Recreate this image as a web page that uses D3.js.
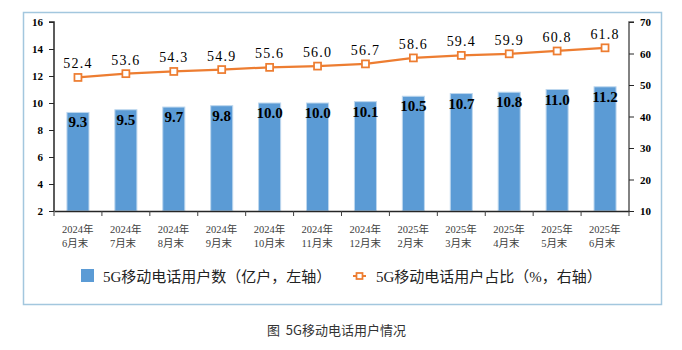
<!DOCTYPE html>
<html>
<head>
<meta charset="utf-8">
<script src="https://cdn.jsdelivr.net/npm/d3@7/dist/d3.min.js"></script>
<style>
  body { margin: 0; background: #fff; }
  svg { display: block; }
</style>
</head>
<body>
<div id="chart"></div>
<script>
// 5G mobile phone users — bars (left axis) + share line (right axis)

const years = ['2024年', '2024年', '2024年', '2024年', '2024年', '2024年', '2024年',
               '2025年', '2025年', '2025年', '2025年', '2025年'];
const months = ['6月末', '7月末', '8月末', '9月末', '10月末', '11月末', '12月末',
                '2月末', '3月末', '4月末', '5月末', '6月末'];
const users = [9.3, 9.5, 9.7, 9.8, 10.0, 10.0, 10.1, 10.5, 10.7, 10.8, 11.0, 11.2];
const share = [52.4, 53.6, 54.3, 54.9, 55.6, 56.0, 56.7, 58.6, 59.4, 59.9, 60.8, 61.8];
const leftTicks = [2, 4, 6, 8, 10, 12, 14, 16];
const rightTicks = [10, 20, 30, 40, 50, 60, 70];

const CONFIG = {
    WIDTH: 682,
    HEIGHT: 350,
    BAR_COLOR: '#5b9bd5',
    BAR_EDGE: '#bdd7ee',
    LINE_COLOR: '#ed7d31',
    BORDER_COLOR: '#a3c7de',
    SERIF: '"Liberation Serif", "Noto Sans CJK SC", serif',
    CJK: '"Noto Sans CJK SC", sans-serif',
};

const plot = { left: 54, right: 629, top: 22, bottom: 211 };

const svg = d3.select('#chart')
  .append('svg')
  .attr('width', CONFIG.WIDTH)
  .attr('height', CONFIG.HEIGHT);

// outer frame
svg.append('rect')
  .attr('x', 23.5).attr('y', 12.5)
  .attr('width', 638).attr('height', 292)
  .attr('fill', 'none')
  .attr('stroke', CONFIG.BORDER_COLOR)
  .attr('stroke-width', 1.5);

const keys = months.map((m, i) => i);

const x = d3.scaleBand()
  .domain(keys)
  .range([plot.left, plot.right])
  .paddingInner(0.54)
  .paddingOuter(0.27);

const xOuter = d3.scaleBand().domain(keys).range([plot.left, plot.right]);

const yLeft = d3.scaleLinear().domain([2, 16]).range([plot.bottom, plot.top]);
const yRight = d3.scaleLinear().domain([10, 70]).range([plot.bottom, plot.top]);

// bars
svg.append('g')
  .selectAll('rect')
  .data(users)
  .join('rect')
  .attr('x', (d, i) => x(i))
  .attr('y', d => yLeft(d))
  .attr('width', x.bandwidth())
  .attr('height', d => yLeft(2) - yLeft(d))
  .attr('fill', CONFIG.BAR_COLOR)
  .attr('stroke', CONFIG.BAR_EDGE)
  .attr('stroke-width', 1);

// bar labels (inside top)
svg.append('g')
  .selectAll('text')
  .data(users)
  .join('text')
  .attr('x', (d, i) => x(i) + x.bandwidth() / 2)
  .attr('y', d => yLeft(d) + 15)
  .attr('text-anchor', 'middle')
  .attr('font-family', CONFIG.SERIF)
  .attr('font-weight', 'bold')
  .attr('font-size', 15)
  .attr('fill', '#000')
  .text(d => d.toFixed(1));

// axes
const leftAxis = d3.axisLeft(yLeft).tickValues(leftTicks).tickSize(5).tickPadding(6);
const gLeft = svg.append('g')
  .attr('transform', `translate(${plot.left},0)`)
  .call(leftAxis);

const rightAxis = d3.axisRight(yRight).tickValues(rightTicks).tickSize(5).tickPadding(6);
const gRight = svg.append('g')
  .attr('transform', `translate(${plot.right},0)`)
  .call(rightAxis);

const bottomAxis = d3.axisBottom(xOuter).tickFormat('').tickSize(0);
const gBottom = svg.append('g')
  .attr('transform', `translate(0,${plot.bottom})`)
  .call(bottomAxis);

// category boundary ticks
gBottom.selectAll('line.sep')
  .data(keys.concat([keys.length]))
  .join('line')
  .attr('class', 'sep')
  .attr('x1', i => plot.left + i * xOuter.step())
  .attr('x2', i => plot.left + i * xOuter.step())
  .attr('y1', 0).attr('y2', 5)
  .attr('stroke', '#404040');

[gLeft, gRight, gBottom].forEach(g => {
  g.select('.domain').attr('stroke', '#262626').attr('stroke-width', 1.5);
  g.selectAll('.tick line').attr('stroke', '#262626');
  g.selectAll('.tick text')
    .attr('font-family', CONFIG.SERIF)
    .attr('font-weight', 'bold')
    .attr('font-size', 11)
    .attr('fill', '#000');
});
gLeft.select('.domain').attr('d', `M-5,${plot.top}H0V${plot.bottom}`);
gRight.select('.domain').attr('d', `M5,${plot.top}H0V${plot.bottom}`).attr('stroke', '#595959');

// category labels (two lines)
const catLabels = svg.append('g')
  .selectAll('text')
  .data(keys)
  .join('text')
  .attr('x', i => xOuter(i) + xOuter.bandwidth() / 2 - 16)
  .attr('font-family', CONFIG.SERIF)
  .attr('font-size', 10.5)
  .attr('fill', '#404040');

catLabels.append('tspan')
  .attr('x', i => xOuter(i) + xOuter.bandwidth() / 2 - 16)
  .attr('y', 233)
  .text(i => years[i]);

catLabels.append('tspan')
  .attr('x', i => xOuter(i) + xOuter.bandwidth() / 2 - 16)
  .attr('y', 247)
  .text(i => months[i]);

// share line
const cx = (d, i) => xOuter(i) + xOuter.bandwidth() / 2;

svg.append('path')
  .datum(share)
  .attr('fill', 'none')
  .attr('stroke', CONFIG.LINE_COLOR)
  .attr('stroke-width', 2.25)
  .attr('d', d3.line().x(cx).y(d => yRight(d)));

svg.append('g')
  .selectAll('rect')
  .data(share)
  .join('rect')
  .attr('x', (d, i) => cx(d, i) - 3.5)
  .attr('y', d => yRight(d) - 3.5)
  .attr('width', 7).attr('height', 7)
  .attr('fill', '#fff')
  .attr('stroke', CONFIG.LINE_COLOR)
  .attr('stroke-width', 1.75);

svg.append('g')
  .selectAll('text')
  .data(share)
  .join('text')
  .attr('x', cx)
  .attr('y', d => yRight(d) - 9)
  .attr('text-anchor', 'middle')
  .attr('font-family', CONFIG.SERIF)
  .attr('font-size', 14)
  .attr('letter-spacing', 1.2)
  .attr('fill', '#000')
  .text(d => d.toFixed(1));

// legend
const legend = svg.append('g').attr('transform', 'translate(0,276)');

legend.append('rect')
  .attr('x', 81).attr('y', -7)
  .attr('width', 13).attr('height', 13)
  .attr('fill', CONFIG.BAR_COLOR);

legend.append('text')
  .attr('x', 103).attr('y', 5.5)
  .attr('font-family', CONFIG.SERIF)
  .attr('font-size', 15)
  .attr('fill', '#222')
  .text('5G移动电话用户数（亿户，左轴）');

legend.append('line')
  .attr('x1', 353).attr('x2', 366)
  .attr('y1', 0).attr('y2', 0)
  .attr('stroke', CONFIG.LINE_COLOR)
  .attr('stroke-width', 2);

legend.append('rect')
  .attr('x', 356.5).attr('y', -3)
  .attr('width', 6).attr('height', 6)
  .attr('fill', '#fff')
  .attr('stroke', CONFIG.LINE_COLOR)
  .attr('stroke-width', 1.75);

legend.append('text')
  .attr('x', 376).attr('y', 5.5)
  .attr('font-family', CONFIG.SERIF)
  .attr('font-size', 15)
  .attr('fill', '#222')
  .text('5G移动电话用户占比（%，右轴）');

// caption
svg.append('text')
  .attr('x', 267).attr('y', 335)
  .attr('font-family', CONFIG.CJK)
  .attr('font-size', 13)
  .attr('fill', '#333')
  .attr('xml:space', 'preserve')
  .style('white-space', 'pre')
  .text('图  5G移动电话用户情况');
</script>
</body>
</html>
